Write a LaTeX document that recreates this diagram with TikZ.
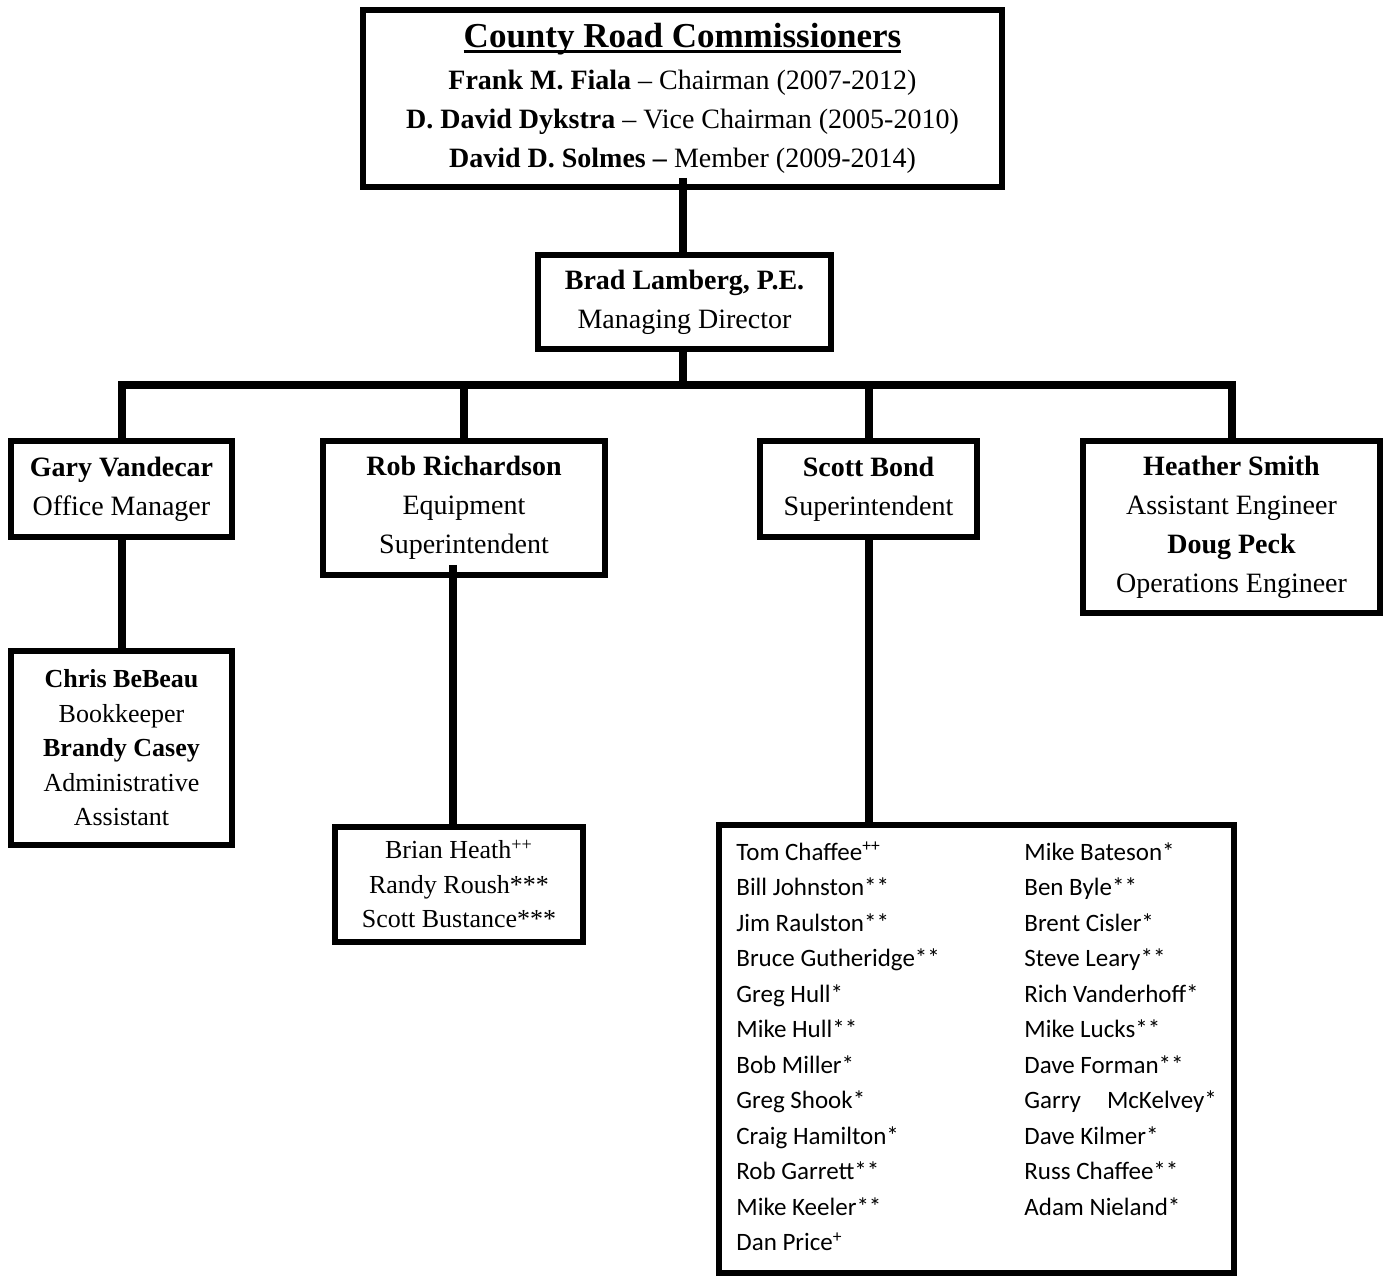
\documentclass[tikz,border=0pt]{standalone}
\usepackage{fontspec}
\setmainfont{Liberation Serif}
\newfontfamily\crewfont{Carlito}
\newlength\ulwd
\newcommand\thickul[1]{\settowidth\ulwd{#1}\rlap{\rule[-2.8pt]{\ulwd}{1.4pt}}#1}
\tikzset{
	unit/.style={draw, line width=3pt, align=center, inner sep=0pt, font=\fontsize{14}{19.5}\selectfont},
	smallunit/.style={unit, font=\fontsize{13}{17.25}\selectfont},
	link/.style={line width=4pt},
}
\begin{document}
\begin{tikzpicture}[x=0.5pt,y=-0.5pt]
		\useasboundingbox (0,0) rectangle (1388,1278);
		\node[unit, minimum width=319.5pt, minimum height=88.5pt] (board) at (682.5,98.5) {{\fontsize{17.5}{20}\selectfont\bfseries\thickul{County Road Commissioners}}\\[1.5pt]\textbf{Frank M. Fiala} -- Chairman (2007-2012)\\\textbf{D. David Dykstra} -- Vice Chairman (2005-2010)\\\textbf{David D. Solmes --} Member (2009-2014)};
		\node[unit, minimum width=146.5pt, minimum height=47pt] (brad) at (684.5,302) {\textbf{Brad Lamberg, P.E.}\\Managing Director};
		
		\node[unit, minimum width=110.5pt, minimum height=48pt] (gary) at (121.5,489) {\textbf{Gary Vandecar}\\Office Manager};
		\node[unit, minimum width=141pt, minimum height=67pt] (rob) at (464,508) {\textbf{Rob Richardson}\\Equipment\\Superintendent};
		\node[unit, minimum width=108.5pt, minimum height=48pt] (scott) at (868.5,489) {\textbf{Scott Bond}\\Superintendent};
		\node[unit, minimum width=148.5pt, minimum height=86pt] (heather) at (1231.5,527) {\textbf{Heather Smith}\\Assistant Engineer\\\textbf{Doug Peck}\\Operations Engineer};
		
		\node[smallunit, minimum width=110.5pt, minimum height=97pt] (chris) at (121.5,748) {\textbf{Chris BeBeau}\\Bookkeeper\\\textbf{Brandy Casey}\\Administrative\\Assistant};
		\node[smallunit, minimum width=124pt, minimum height=57.5pt] (brian) at (459,884) {Brian Heath\textsuperscript{++}\\Randy Roush***\\Scott Bustance***};
		\node[unit, minimum width=257.5pt, minimum height=224pt] (crew) at (976.5,1049) {};
		\node[anchor=north west, inner sep=0pt, font=\crewfont\fontsize{12.5}{17.75}\selectfont] (names) at (736,835) {%
			\begin{tabular}{@{}p{144pt}@{}l@{}}
			Tom Chaffee\textsuperscript{++} & Mike Bateson* \\
			Bill Johnston** & Ben Byle** \\
			Jim Raulston** & Brent Cisler* \\
			Bruce Gutheridge** & Steve Leary** \\
			Greg Hull* & Rich Vanderhoff* \\
			Mike Hull** & Mike Lucks** \\
			Bob Miller* & Dave Forman** \\
			Greg Shook* & Garry\hspace{13pt}McKelvey* \\
			Craig Hamilton* & Dave Kilmer* \\
			Rob Garrett** & Russ Chaffee** \\
			Mike Keeler** & Adam Nieland* \\
			Dan Price\textsuperscript{+} & \\
			\end{tabular}};
		
		\coordinate (bar) at (682.5,385);
		\draw[link] ([yshift=6pt]board.south) -- (board.south |- brad.north);
		\draw[link] (board.south |- brad.south) -- (bar);
		\draw[link] (gary.north) |- (bar) -| (heather.north);
		\draw[link] (rob.north) -- (rob.north |- bar);
		\draw[link] (scott.north) -- (scott.north |- bar);
		\draw[link] (gary.south) -- (chris.north);
		\draw[link] ([xshift=-3pt,yshift=6.5pt]rob.south -| brian.north) -- ([xshift=-3pt]brian.north);
		\draw[link] (scott.south) -- (scott.south |- crew.north);
		
		\end{tikzpicture}
\end{document}
